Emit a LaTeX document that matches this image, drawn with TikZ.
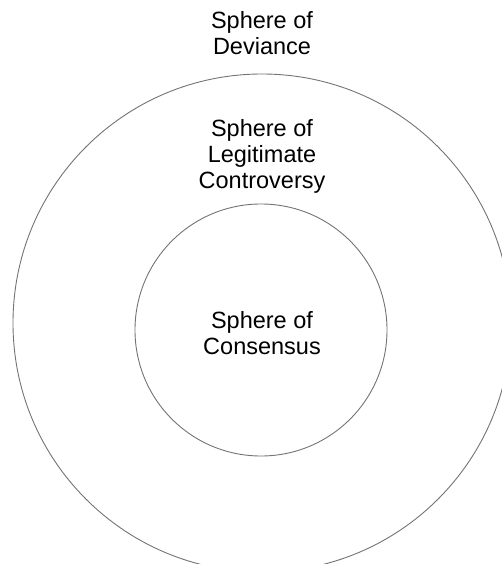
\documentclass[tikz,border=0pt]{standalone}
\usepackage{fontspec}
\setmainfont{Liberation Sans}
\begin{document}
\begin{tikzpicture}[x=1pt,y=-1pt,
  ring/.style={draw=black!55,line width=0.9pt,circle,inner sep=0pt},
  label/.style={align=center,anchor=north,inner sep=0pt,font=\fontsize{23.5}{26}\selectfont}]
\useasboundingbox (0,0) rectangle (502,564);
\clip (0,0) rectangle (502,564);
\node[ring,minimum size=498pt] (outer) at (262,323) {};
\node[ring,minimum size=252pt] (inner) at (261,330) {};
\node[label] (deviance) at (262,11.5) {Sphere of\\Deviance};
\node[label] (controversy) at (262,119) {Sphere of\\Legitimate\\Controversy};
\node[label] (consensus) at (262,311.5) {Sphere of\\Consensus};
\end{tikzpicture}
\end{document}
